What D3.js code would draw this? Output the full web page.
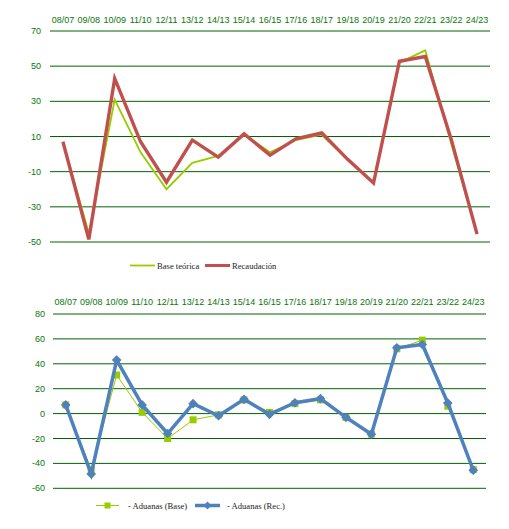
<!DOCTYPE html>
<html>
<head>
<meta charset="utf-8">
<script src="https://cdn.jsdelivr.net/npm/d3@7"></script>
<style>
  body { margin: 0; background: #fff; }
  svg { display: block; }
</style>
</head>
<body>
<svg id="chart" width="509" height="529"></svg>
<script>
const years = ["08/07","09/08","10/09","11/10","12/11","13/12","14/13","15/14","16/15",
               "17/16","18/17","19/18","20/19","21/20","22/21","23/22","24/23"];
const baseTeorica = [7, -45, 31, 1, -20, -5, -1, 11, 1, 8, 11, -3, -16.5, 52, 59, 6, -45];
const recaudacion = [7, -48.5, 43, 7, -16, 8, -1.7, 11.5, -0.6, 8.7, 12, -3, -16.5, 52.8, 55.5, 8.5, -45.5];
const topTicks = [70, 50, 30, 10, -10, -30, -50];
const bottomTicks = [80, 60, 40, 20, 0, -20, -40, -60];

const GREEN_TEXT = "#0a770a";
const GRID = "#006400";

const svg = d3.select("#chart");

function drawPanel(opts) {
  const g = svg.append("g");
  const x = d3.scalePoint().domain(years).range([opts.left, opts.right]).padding(0.5);
  const y = d3.scaleLinear().domain(opts.domain).range(opts.yRange);

  // gridlines
  g.selectAll("line.grid")
    .data(opts.ticks)
    .enter()
    .append("line")
    .attr("x1", opts.left)
    .attr("x2", opts.right)
    .attr("y1", d => y(d))
    .attr("y2", d => y(d))
    .attr("stroke", GRID)
    .attr("stroke-width", 1);

  // y labels
  g.selectAll("text.ylab")
    .data(opts.ticks)
    .enter()
    .append("text")
    .attr("x", opts.left - opts.yLabelGap)
    .attr("y", d => y(d) + 3)
    .attr("text-anchor", "end")
    .attr("font-family", "Liberation Sans, Arial, sans-serif")
    .attr("font-size", 9)
    .attr("fill", GREEN_TEXT)
    .text(d => d);

  // top category labels
  g.selectAll("text.xlab")
    .data(years)
    .enter()
    .append("text")
    .attr("x", d => x(d))
    .attr("y", opts.labelY)
    .attr("text-anchor", "middle")
    .attr("font-family", "Liberation Sans, Arial, sans-serif")
    .attr("font-size", 9)
    .attr("fill", GREEN_TEXT)
    .text(d => d);

  const line = d3.line().x((d, i) => x(years[i])).y(d => y(d));

  opts.series.forEach(s => {
    g.append("path")
      .datum(s.values)
      .attr("d", line)
      .attr("fill", "none")
      .attr("stroke", s.color)
      .attr("stroke-width", s.width)
      .attr("stroke-linejoin", "miter");

    if (s.marker === "square") {
      g.selectAll(null)
        .data(s.values)
        .enter()
        .append("rect")
        .attr("x", (d, i) => x(years[i]) - 3.5)
        .attr("y", d => y(d) - 3.5)
        .attr("width", 7)
        .attr("height", 7)
        .attr("fill", s.color);
    } else if (s.marker === "diamond") {
      g.selectAll(null)
        .data(s.values)
        .enter()
        .append("path")
        .attr("d", d3.symbol().type(d3.symbolDiamond2).size(60))
        .attr("transform", (d, i) => `translate(${x(years[i])},${y(d)})`)
        .attr("fill", s.color);
    }
  });

  // legend
  opts.legend.forEach(l => {
    g.append("line")
      .attr("x1", l.x)
      .attr("x2", l.x + l.len)
      .attr("y1", opts.legendY)
      .attr("y2", opts.legendY)
      .attr("stroke", l.color)
      .attr("stroke-width", l.width);
    if (l.marker === "square") {
      g.append("rect")
        .attr("x", l.x + l.len / 2 - 3)
        .attr("y", opts.legendY - 3)
        .attr("width", 6)
        .attr("height", 6)
        .attr("fill", l.color);
    } else if (l.marker === "diamond") {
      g.append("path")
        .attr("d", d3.symbol().type(d3.symbolDiamond2).size(40))
        .attr("transform", `translate(${l.x + l.len / 2},${opts.legendY})`)
        .attr("fill", l.color);
    }
    g.append("text")
      .attr("x", l.textX)
      .attr("y", opts.legendY + 3)
      .attr("font-family", "Liberation Serif, Times New Roman, serif")
      .attr("font-size", 8.6)
      .attr("fill", "#222")
      .text(l.label);
  });
}

drawPanel({
  left: 50, right: 490,
  domain: [-50, 70], yRange: [242, 31],
  ticks: topTicks,
  yLabelGap: 9,
  labelY: 22.5,
  series: [
    { values: baseTeorica, color: "#99cc00", width: 1.8 },
    { values: recaudacion, color: "#c0504d", width: 3.4 }
  ],
  legendY: 265.5,
  legend: [
    { x: 130, len: 25, color: "#99cc00", width: 1.8, textX: 157, label: "Base teórica" },
    { x: 205, len: 25, color: "#c0504d", width: 3, textX: 232, label: "Recaudación" }
  ]
});

drawPanel({
  left: 53, right: 486,
  domain: [-60, 80], yRange: [488.3, 314],
  ticks: bottomTicks,
  yLabelGap: 8,
  labelY: 304.5,
  series: [
    { values: baseTeorica, color: "#99cc00", width: 1, marker: "square" },
    { values: recaudacion, color: "#4f81bd", width: 3.5, marker: "diamond" }
  ],
  legendY: 505.5,
  legend: [
    { x: 96, len: 23, color: "#99cc00", width: 1, marker: "square", textX: 128, label: " - Aduanas (Base)" },
    { x: 195, len: 25, color: "#4f81bd", width: 3.5, marker: "diamond", textX: 227, label: "- Aduanas (Rec.)" }
  ]
});
</script>
</body>
</html>
